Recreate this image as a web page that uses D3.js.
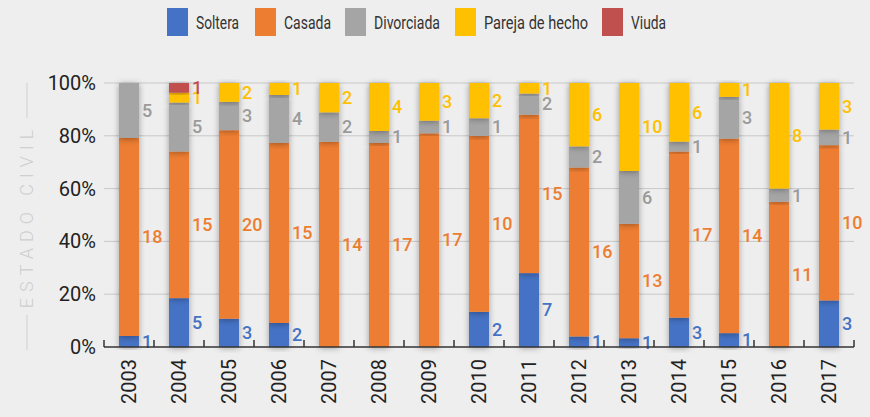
<!DOCTYPE html>
<html>
<head>
<meta charset="utf-8">
<script src="https://cdn.jsdelivr.net/npm/d3@7"></script>
<style>
  body { margin: 0; background: #eeeeee; }
  svg { display: block; font-family: Roboto, sans-serif; }
</style>
</head>
<body>
<div id="chart"></div>
<script>
// categories and series (counts per year)
var years = ['2003','2004','2005','2006','2007','2008','2009','2010','2011','2012','2013','2014','2015','2016','2017'];
var seriesNames = ['Soltera','Casada','Divorciada','Pareja de hecho','Viuda'];
var soltera    = [1, 5, 3, 2, 0, 0, 0, 2, 7, 1, 1, 3, 1, 0, 3];
var casada     = [18, 15, 20, 15, 14, 17, 17, 10, 15, 16, 13, 17, 14, 11, 10];
var divorciada = [5, 5, 3, 4, 2, 1, 1, 1, 2, 2, 6, 1, 3, 1, 1];
var pareja     = [0, 1, 2, 1, 2, 4, 3, 2, 1, 6, 10, 6, 1, 8, 3];
var viuda      = [0, 1, 0, 0, 0, 0, 0, 0, 0, 0, 0, 0, 0, 0, 0];
var yTicks = [0, 0.2, 0.4, 0.6, 0.8, 1];

var colors = ['#4472c4', '#ed7d31', '#a5a5a5', '#ffc000', '#c0504d'];
var labelColors = ['#4472c4', '#ed7d31', '#9a9a9a', '#ffc000', '#c0504d'];

var width = 870, height = 417;
var margin = {top: 83, right: 16, bottom: 70, left: 104};

var rows = years.map(function(y, i) {
	var vals = [soltera[i], casada[i], divorciada[i], pareja[i], viuda[i]];
	var total = d3.sum(vals);
	var r = {year: y, total: total};
	seriesNames.forEach(function(s, k) { r[s] = vals[k] / total; r[s + '_n'] = vals[k]; });
	return r;
});

var stacked = d3.stack().keys(seriesNames)(rows);

var svg = d3.select('#chart').append('svg')
	.attr('width', width)
	.attr('height', height);

var defs = svg.append('defs');
var f = defs.append('filter').attr('id', 'shadow')
	.attr('x', '-50%').attr('y', '-20%').attr('width', '200%').attr('height', '140%');
f.append('feDropShadow')
	.attr('dx', 0).attr('dy', 1)
	.attr('stdDeviation', 3)
	.attr('flood-color', '#000')
	.attr('flood-opacity', 0.35);

var x = d3.scaleBand()
	.domain(years)
	.range([margin.left, width - margin.right])
	.paddingInner(0.6)
	.paddingOuter(0.3);

var y = d3.scaleLinear()
	.domain([0, 1])
	.range([height - margin.bottom, margin.top]);

// gridlines
svg.append('g')
	.selectAll('line')
	.data(yTicks.slice(1)).enter()
	.append('line')
		.attr('x1', margin.left)
		.attr('x2', width - margin.right)
		.attr('y1', function(d) { return y(d); })
		.attr('y2', function(d) { return y(d); })
		.attr('stroke', '#c8c8c8')
		.attr('stroke-width', 1);

// y tick labels
svg.append('g')
	.selectAll('text')
	.data(yTicks).enter()
	.append('text')
		.attr('x', margin.left - 8)
		.attr('y', function(d) { return y(d); })
		.attr('dy', '0.35em')
		.attr('text-anchor', 'end')
		.attr('font-size', 20)
		.attr('fill', '#222')
		.text(function(d) { return d3.format('.0%')(d); });

// bars
var layer = svg.append('g')
	.selectAll('g')
	.data(stacked).enter()
	.append('g')
		.attr('fill', function(d, i) { return colors[i]; });

layer.selectAll('rect')
	.data(function(d) { return d; }).enter()
	.append('rect')
		.attr('x', function(d) { return x(d.data.year); })
		.attr('y', function(d) { return y(d[1]); })
		.attr('width', x.bandwidth())
		.attr('height', function(d) { return y(d[0]) - y(d[1]); })
		.attr('filter', 'url(#shadow)');

// value labels
svg.append('g')
	.selectAll('g')
	.data(stacked).enter()
	.append('g')
		.attr('fill', function(d, i) { return labelColors[i]; })
	.selectAll('text')
	.data(function(d) { return d.filter(function(p) { return p.data[d.key + '_n'] > 0; }).map(function(p) { p.key = d.key; return p; }); }).enter()
	.append('text')
		.attr('x', function(d) { return x(d.data.year) + x.bandwidth() + 3; })
		.attr('y', function(d) { return y((d[0] + d[1]) / 2); })
		.attr('dy', '0.35em')
		.attr('font-size', 18)
		.attr('font-weight', 500)
		.text(function(d) { return d.data[d.key + '_n']; });

// x axis
var base = y(0);
var xAxis = svg.append('g');
xAxis.append('line')
	.attr('x1', margin.left).attr('x2', width - margin.right)
	.attr('y1', base).attr('y2', base)
	.attr('stroke', '#333').attr('stroke-width', 1.5);
var step = x.step();
var edges = years.map(function(d) { return x(d) - (step - x.bandwidth()) / 2; });
edges.push(edges[edges.length - 1] + step);
xAxis.selectAll('.tick')
	.data(edges).enter()
	.append('line')
		.attr('x1', function(d) { return d; }).attr('x2', function(d) { return d; })
		.attr('y1', base).attr('y2', base - 7)
		.attr('stroke', '#333').attr('stroke-width', 1.5);

xAxis.selectAll('text')
	.data(years).enter()
	.append('text')
		.attr('transform', function(d) { return 'translate(' + (x(d) + x.bandwidth() / 2) + ',' + (base + 12) + ') rotate(-90)'; })
		.attr('text-anchor', 'end')
		.attr('dy', '0.35em')
		.attr('font-size', 20)
		.attr('fill', '#222')
		.text(function(d) { return d; });

// y axis title with side lines
var tx = 27;
svg.append('line').attr('x1', tx).attr('x2', tx).attr('y1', 83).attr('y2', 118).attr('stroke', '#cfcfcf');
svg.append('line').attr('x1', tx).attr('x2', tx).attr('y1', 315).attr('y2', 350).attr('stroke', '#cfcfcf');
svg.append('text')
	.attr('transform', 'translate(' + tx + ',216) rotate(-90)')
	.attr('text-anchor', 'middle')
	.attr('dy', '0.35em')
	.attr('font-size', 18)
	.attr('font-weight', 300)
	.attr('letter-spacing', 6)
	.attr('fill', '#cfcfcf')
	.text('ESTADO CIVIL');

// legend (narrow face in the original, so squeeze the text)
var legendX = [167, 255, 345, 455, 602];
var legendW = [43, 47, 66, 104, 35];
var legend = svg.append('g')
	.selectAll('g')
	.data(seriesNames).enter()
	.append('g')
		.attr('transform', function(d, i) { return 'translate(' + legendX[i] + ',8)'; });
legend.append('rect')
	.attr('width', 21).attr('height', 28)
	.attr('fill', function(d, i) { return colors[i]; });
legend.append('text')
	.attr('x', 29).attr('y', 14)
	.attr('dy', '0.35em')
	.attr('font-size', 19)
	.attr('fill', '#333')
	.attr('textLength', function(d, i) { return legendW[i]; })
	.attr('lengthAdjust', 'spacingAndGlyphs')
	.text(function(d) { return d; });
</script>
</body>
</html>
